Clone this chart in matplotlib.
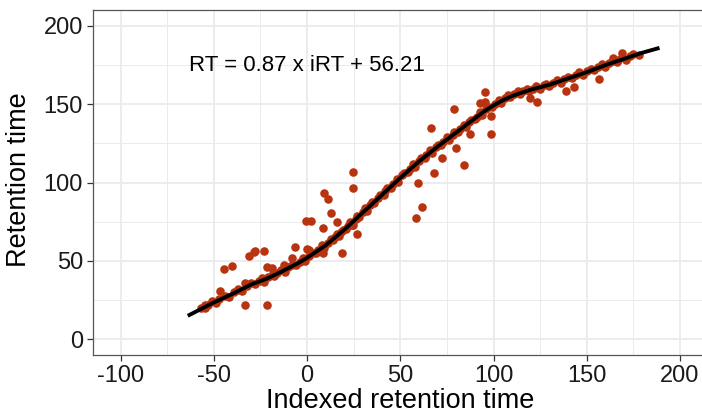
# Retention time vs indexed retention time (iRT) calibration scatter
import matplotlib
matplotlib.use("Agg")
import matplotlib.pyplot as plt
from matplotlib.ticker import MultipleLocator

plt.rcParams['font.family'] = ['Liberation Sans', 'DejaVu Sans']
plt.rcParams['axes.unicode_minus'] = False

# points lying on the dense band along the fit
band_irt = [-57, -55, -53, -51, -49, -47, -44, -42, -39, -37, -35, -32, -30, -28, -26,
            -24, -23, -21, -19, -18, -16, -14, -12, -10, -8, -6, -4, -2, -1, 1, 3, 5,
            6, 8, 9, 11, 13, 14, 15, 16, 17, 18, 19, 21, 22, 23, 24, 26, 27, 28, 30,
            31, 32, 34, 35, 36, 38, 39, 41, 42, 43, 45, 46, 48, 49, 51, 52, 54, 55,
            57, 58, 60, 61, 63, 64, 66, 67, 69, 70, 72, 73, 75, 76, 78, 79, 81, 82,
            84, 85, 87, 88, 90, 91, 93, 94, 96, 97, 99, 101, 103, 104, 106, 108, 109,
            111, 113, 114, 116, 118, 119, 121, 123, 125, 127, 128, 130, 132, 134, 136,
            138, 140, 142, 144, 146, 148, 150, 152, 154, 156, 158, 160, 162, 164, 166,
            167, 169, 171, 173, 175, 178]
band_rt = [20.3, 19.8, 22.0, 24.4, 22.9, 25.7, 27.8, 27.2, 29.9, 32.3, 30.8, 34.3, 36, 35.2,
           37.1, 39.1, 36.9, 39.6, 41.2, 40.1, 42.2, 44.5, 43, 45.9, 47.7, 47.2, 49.5, 51.9,
           50.1, 53.3, 55.4, 55.3, 57.1, 59.9, 58, 61.5, 64, 63.3, 65.3, 67.5, 65.8, 68.5, 70,
           70.4, 72.5, 74.8, 73.2, 77.1, 78.7, 78.1, 81.3, 83.6, 82, 85.9, 87.5, 86.9, 90.1,
           92.4, 91.9, 94.7, 96.3, 96.8, 98.9, 102.3, 100.7, 104.6, 106.1, 106.5, 108.6, 111.9,
           110.2, 114, 115.5, 115.7, 117.6, 120.7, 118.9, 122.6, 124, 124.1, 126, 129, 127.2,
           130.7, 132.1, 132.2, 134.1, 137.1, 135.3, 138.8, 140.2, 140.3, 142.2, 145.2, 143.4,
           146.8, 148.2, 148.2, 150.4, 153, 151, 154.1, 155.9, 154.8, 156.6, 158.7, 156.4,
           158.6, 159.9, 158.5, 159.9, 161.8, 159.8, 162.1, 163, 161.8, 163.6, 165.6, 163.7,
           166.2, 167.5, 166.6, 168.4, 170.4, 168.5, 171, 172.4, 171.6, 173.5, 175.6, 173.8,
           176.3, 177.6, 176.7, 178.1, 180.1, 178.2, 180.7, 182, 181.5]

# scattered peptides away from the fit
off_irt = [-54.5, -46.8, -44.7, -40.2, -36.7, -33.1, -33.1, -31.3, -28.6, -27.7, -22.9,
           -21.4, -21.4, -18.8, -12.5, -8.0, -6.3, 0.0, 0.9, -0.4, 2.1, 8.6, 9.3, 11.1,
           12.9, 8.6, 16.1, 18.8, 24.7, 24.7, 26.8, 24.7, 58.6, 61.6, 59.5, 68.2, 72.3,
           80.0, 83.9, 66.5, 78.9, 87.5, 92.9, 95.6, 95.6, 98.6, 98.6, 119.7, 123.3,
           139.0, 142.9, 156.8, 168.8, 164.3]
off_rt = [21.9, 31.0, 44.7, 47.0, 31.3, 21.9, 35.7, 53.2, 55.7, 56.6, 56.6,
          21.9, 46.0, 45.3, 47.4, 51.7, 58.7, 57.9, 56.9, 75.7, 75.7, 70.9, 93.2, 89.4,
          80.8, 54.9, 75.1, 54.9, 107.0, 96.8, 67.0, 73.0, 77.2, 84.3, 100.0, 106.0, 115.9,
          122.3, 111.3, 134.7, 147.0, 131.1, 151.1, 151.7, 157.7, 142.5, 131.1, 153.8, 151.7,
          158.7, 160.9, 166.2, 182.6, 179.4]

# smoothed fit
fit_irt = [-64, -55, -50, -40, -30, -22, -14, -5, 0, 10, 20, 30, 40, 50, 60, 70,
           80, 90, 95, 100, 105, 110, 115, 120, 130, 140, 150, 160, 170, 180, 189]
fit_rt = [15, 20.5, 23.5, 29, 35, 38.5, 43, 48.5, 52, 60, 70, 81, 92, 103, 113.5, 123,
          132, 141, 145.5, 149.3, 152.6, 155.3, 157.4, 159.3, 162.5, 166.5, 170.5, 175,
          179, 183, 186]

fig = plt.figure(figsize=(7.02, 4.15), dpi=100)
ax = fig.add_axes([0.132, 0.1446, 0.8765, 0.8306])

ax.scatter(band_irt + off_irt, band_rt + off_rt, s=38, color='#B8330F',
           linewidths=0, zorder=2)
ax.plot(fit_irt, fit_rt, color='black', lw=2.8, solid_capstyle='butt', zorder=3)

ax.text(0, 175, "RT = 0.87 x iRT + 56.21", ha='center', va='center', fontsize=16)

ax.set_xlim(-115, 215)
ax.set_ylim(-10, 210)
ax.xaxis.set_major_locator(MultipleLocator(50))
ax.yaxis.set_major_locator(MultipleLocator(50))
ax.xaxis.set_minor_locator(MultipleLocator(25))
ax.yaxis.set_minor_locator(MultipleLocator(25))
ax.grid(which='major', color='#EBEBEB', lw=1.3, zorder=0)
ax.grid(which='minor', color='#EBEBEB', lw=0.7, zorder=0)
ax.set_axisbelow(True)

ax.tick_params(which='major', length=4, width=0.9, color='#333333',
               labelsize=17, labelcolor='#1A1A1A', pad=3)
ax.tick_params(which='minor', length=0)
for s in ax.spines.values():
    s.set_color('#555555')
    s.set_linewidth(0.9)

ax.set_xlabel('Indexed retention time', fontsize=19.5)
ax.set_ylabel('Retention time', fontsize=19.5)
ax.xaxis.set_label_coords(0.5, -0.095)
ax.yaxis.set_label_coords(-0.098, 0.51)

plt.savefig('out.png', dpi=100)
